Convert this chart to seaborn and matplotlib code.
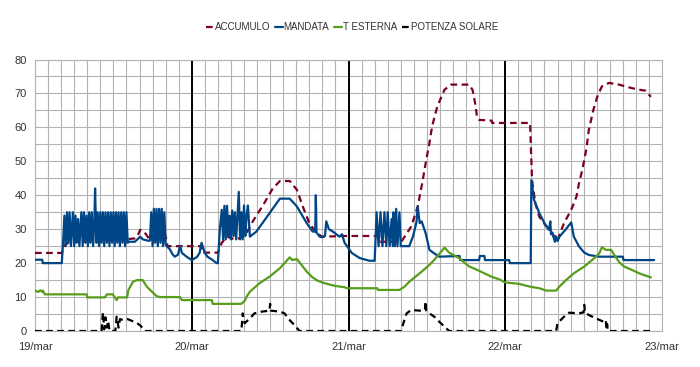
import matplotlib
matplotlib.use("Agg")
import matplotlib.pyplot as plt
import seaborn as sns
import pandas as pd
from matplotlib.ticker import MultipleLocator

sns.set_theme(style="white")
plt.rcParams['font.family'] = ['Liberation Sans', 'DejaVu Sans']

# hours since 19/mar 00:00
acc_h = [0, 4.1, 4.6, 5.4, 9.0, 13.0, 15.3, 15.7, 16.1, 16.5, 17.0, 17.6, 18.5, 19.6, 20.0, 20.3,
         25.5, 25.6, 28.0, 28.6, 29.4, 30.6, 31.6, 32.4, 33.4, 34.9, 36.4, 37.5, 39.0, 40.1, 41.0,
         42.0, 43.1, 44.0, 47.4, 52.7, 52.8, 56.1, 57.6, 58.6, 59.3, 59.9, 60.4, 60.8, 61.6, 62.7,
         63.7, 66.5, 67.0, 67.4, 67.7, 68.0, 69.9, 70.0, 75.8, 76.1, 76.6, 77.2, 78.3, 79.2, 79.6,
         80.0, 81.0, 82.1, 82.9, 83.3, 83.8, 84.4, 84.8, 85.5, 86.1, 86.8, 87.9, 89.4, 91.3, 92.5,
         93.5, 94.3]
acc_v = [23, 23, 25.4, 26.3, 26.5, 26.8, 27.3, 28.0, 29.8, 29.6, 28.5, 26.8, 26.8, 27.3, 28.0, 25.0,
         25.0, 23.1, 23.1, 26.0, 27.8, 27.0, 27.5, 28.9, 32.5, 37.0, 42.0, 44.2, 44.2, 41.6, 36.7,
         31.8, 28.8, 27.8, 28.0, 28.0, 26.3, 26.3, 30.8, 36.7, 43.7, 50.4, 55.5, 60.3, 66.2, 71.1,
         72.6, 72.6, 71.0, 67.0, 62.8, 62.2, 62.0, 61.3, 61.3, 44.5, 37.7, 33.7, 30.8, 28.9, 27.4,
         26.8, 31.8, 35.7, 39.6, 43.6, 47.5, 53.4, 59.3, 65.2, 69.1, 72.1, 73.1, 72.6, 71.6, 71.1,
         70.8, 69.0]

man_h = [0, 1.1, 1.2, 4.1, 4.3, 4.5, 4.7, 4.9, 5.1, 5.3, 5.5, 5.8, 6.0, 6.2, 6.4, 6.6, 6.8, 7.1,
         7.3, 7.5, 7.7, 7.9, 8.1, 8.3, 8.5, 8.7, 8.9, 9.1, 9.2, 9.4, 9.6, 9.8, 10.0, 10.2, 10.4,
         10.6, 10.8, 11.0, 11.2, 11.4, 11.6, 11.8, 12.0, 12.2, 12.4, 12.6, 12.8, 13.0, 13.2, 13.4,
         13.6, 13.8, 14.0, 14.2, 14.4, 15.3, 16.1, 16.5, 17.3, 17.6, 17.8, 18.0, 18.2, 18.4, 18.6,
         18.8, 19.0, 19.2, 19.4, 19.6, 19.8, 20.0, 20.2, 20.6, 21.1, 21.4, 21.9, 22.2, 22.5, 23.2,
         24.0, 24.8, 25.2, 25.5, 26.0, 26.4, 27.2, 27.8, 28.0, 28.3, 28.6, 28.8, 29.0, 29.2, 29.4,
         29.6, 29.8, 30.0, 30.2, 30.4, 30.6, 30.8, 31.0, 31.2, 31.4, 31.6, 31.8, 32.0, 32.2, 32.4,
         32.6, 32.9, 33.9, 35.9, 37.5, 39.0, 40.1, 41.6, 42.5, 42.9, 43.0, 43.1, 43.6, 44.0, 44.4,
         44.6, 45.0, 45.6, 46.6, 47.0, 47.4, 48.5, 49.7, 51.2, 52.0, 52.1, 52.3, 52.6, 52.9, 53.2,
         53.5, 53.8, 54.0, 54.3, 54.6, 54.8, 54.9, 55.1, 55.3, 55.5, 55.8, 56.0, 57.3, 57.9, 58.4,
         58.6, 58.9, 59.2, 59.8, 60.4, 61.1, 61.9, 65.0, 65.1, 68.0, 68.1, 68.8, 68.9, 72.6, 72.7,
         75.9, 76.0, 76.4, 77.2, 78.0, 78.7, 78.9, 79.0, 79.2, 79.6, 79.7, 80.0, 80.3, 81.2, 82.1,
         82.5, 83.3, 84.1, 84.8, 86.4, 90.0, 90.1, 94.8]
man_v = [21, 21, 20, 20, 26, 34, 25, 35, 26, 35, 25, 35, 25, 34, 26, 33, 25, 35, 25, 35, 26, 34,
         25, 35, 26, 35, 25, 33, 42, 26, 35, 25, 35, 26, 35, 25, 35, 26, 35, 25, 35, 26, 35, 25, 35,
         26, 35, 25, 35, 26, 35, 25, 35, 26, 26.3, 26.3, 27.8, 27.0, 26.6, 26.6, 35, 25, 36, 26, 36,
         25, 36, 26, 36, 25, 35, 25.5, 24.9, 24.2, 22.5, 21.9, 22.5, 25.1, 23.0, 21.9, 20.9, 21.8,
         23.0, 26.0, 23.0, 21.9, 20.9, 20.0, 20.0, 30.0, 35.7, 27, 36.9, 27, 36.9, 28, 34, 27, 35.5,
         28, 35, 27, 34, 41, 27, 35, 27, 37, 28, 34, 37, 27.8, 29.3, 34.7, 39.0, 39.0, 36.7, 31.8,
         29.3, 29.3, 40.0, 29.0, 27.8, 27.6, 28.0, 32.3, 30.0, 29.3, 27.8, 28.5, 26.0, 23.0, 21.5,
         20.7, 20.7, 25, 35, 25, 35, 25, 35, 25, 35, 25, 33, 25, 35, 25, 36, 25, 35, 25, 25, 28, 32,
         36.7, 31.8, 32.3, 28.9, 23.9, 22.9, 21.9, 22.1, 20.9, 20.9, 22.1, 22.1, 20.9, 20.9, 20.0,
         20.0, 44.5, 38.7, 34.8, 31.8, 29.8, 32.3, 28.5, 28.9, 26.3, 28.0, 26.5, 27.8, 29.8, 32.0,
         27.8, 24.9, 23.1, 22.4, 21.9, 21.9, 20.9, 20.9]

tes_h = [0, 0.5, 0.8, 1.1, 1.2, 1.5, 7.9, 8.0, 10.7, 11.0, 11.9, 12.2, 12.5, 12.7, 14.1, 14.3, 15.0,
         15.6, 16.5, 17.1, 17.9, 18.6, 19.1, 22.2, 22.5, 27.1, 27.2, 31.6, 32.1, 32.4, 32.9, 34.4,
         35.9, 37.5, 38.2, 39.0, 39.4, 40.1, 40.8, 41.6, 42.5, 43.3, 44.3, 45.9, 47.4, 47.8, 52.4,
         52.5, 55.8, 56.6, 57.3, 58.9, 60.4, 61.1, 62.2, 62.7, 63.4, 65.0, 65.7, 66.5, 67.7, 68.8,
         69.9, 71.1, 72.0, 74.1, 75.7, 77.2, 78.3, 79.8, 80.3, 81.3, 82.5, 84.1, 85.6, 86.4, 86.8,
         87.4, 88.2, 88.7, 89.4, 90.2, 91.4, 92.5, 93.2, 94.3]
tes_v = [11.9, 11.5, 12.0, 11.5, 11.9, 10.8, 10.8, 9.9, 9.9, 10.8, 10.8, 10.0, 9.1, 9.9, 9.9, 12.1,
         14.5, 15.0, 15.0, 13.1, 11.6, 10.3, 10.0, 10.0, 9.1, 9.1, 8.0, 8.0, 8.9, 10.1, 11.6, 14.1,
         16.0, 18.5, 20.0, 21.7, 20.9, 21.2, 19.5, 17.5, 15.8, 14.8, 14.1, 13.3, 12.9, 12.6, 12.6,
         12.1, 12.1, 13.1, 14.5, 17.0, 19.5, 20.9, 23.4, 24.6, 23.1, 21.4, 20.2, 19.0, 18.0, 17.0,
         16.0, 15.2, 14.3, 13.9, 13.1, 12.6, 11.9, 11.9, 13.1, 15.0, 17.0, 19.0, 21.4, 22.9, 24.7,
         23.9, 23.9, 22.4, 20.4, 19.0, 18.0, 17.0, 16.5, 15.8]

sol_h = [0, 10.2, 10.4, 10.6, 10.8, 11.0, 11.2, 11.4, 12.3, 12.5, 12.8, 13.0, 13.5, 14.2, 14.8,
         15.5, 16.2, 16.8, 31.6, 31.8, 32.1, 32.9, 33.6, 34.7, 35.9, 36.0, 36.1, 37.5, 38.2, 39.0,
         39.7, 40.5, 56.1, 56.4, 56.9, 57.6, 58.9, 59.7, 59.8, 59.9, 60.4, 61.5, 61.9, 62.7, 63.4,
         79.8, 80.0, 81.0, 81.8, 83.3, 84.0, 84.1, 84.2, 84.8, 85.9, 87.1, 87.4, 87.5, 87.6, 87.7,
         94.3]
sol_v = [0, 0, 5.5, 0.5, 4.0, 1.0, 3.0, 0, 0, 4.2, 1.0, 3.5, 3.2, 3.5, 3.0, 2.5, 1.5, 0, 0, 5.2,
         2.3, 3.7, 5.2, 5.7, 6.0, 8.0, 6.0, 5.7, 5.2, 3.2, 1.8, 0, 0, 2.3, 5.2, 6.2, 6.0, 6.2, 8.7,
         6.0, 5.2, 3.7, 2.7, 1.3, 0, 0, 2.3, 4.2, 5.4, 5.2, 5.5, 7.7, 5.5, 4.7, 3.7, 2.7, 3.2, 0.5,
         2.0, 0, 0]

tick_pos = [0, 24, 48, 72, 96]
tick_lab = ["19/mar", "20/mar", "21/mar", "22/mar", "23/mar"]

fig = plt.figure(figsize=(7.0, 3.67), dpi=100)
ax = fig.add_axes([35/700, 1 - 331/367, 627/700, (331 - 59.5)/367])

grid_c = "#b3b3b3"
ax.set_xlim(0, 96)
ax.set_ylim(0, 80)
ax.xaxis.set_minor_locator(MultipleLocator(2))
ax.yaxis.set_minor_locator(MultipleLocator(5))
ax.set_xticks(tick_pos)
ax.set_xticklabels(tick_lab)
ax.set_yticks(range(0, 81, 10))
ax.grid(True, which="both", color=grid_c, linewidth=0.8)
ax.set_axisbelow(True)
for d in [24, 48, 72]:
    ax.axvline(d, color="black", linewidth=1.4, zorder=1.5)
for s in ax.spines.values():
    s.set_color(grid_c)
    s.set_linewidth(0.8)
ax.tick_params(axis="both", which="major", length=4, width=0.8, color=grid_c,
               labelsize=8, labelcolor="#333333", pad=2)
ax.tick_params(axis="x", which="major", pad=4)
ax.tick_params(axis="both", which="minor", length=0)

series = [
    ("ACCUMULO", acc_h, acc_v, "#7e0021", (0, (3, 2))),
    ("MANDATA", man_h, man_v, "#004586", "-"),
    ("T ESTERNA", tes_h, tes_v, "#579d1c", "-"),
    ("POTENZA SOLARE", sol_h, sol_v, "black", (0, (3, 2))),
]
for name, h, v, c, ls in series:
    df = pd.DataFrame({"h": h, "v": v})
    sns.lineplot(data=df, x="h", y="v", ax=ax, color=c, linewidth=1.6,
                 linestyle=ls, estimator=None, sort=False, label=name, zorder=3)

ax.set_xlabel("")
ax.set_ylabel("")
leg = ax.legend(loc="center", bbox_to_anchor=(352/700, 1 - 27/367),
                bbox_transform=fig.transFigure, ncol=4, frameon=False,
                fontsize=7, handlelength=0.8, handletextpad=0.1,
                columnspacing=0.5)
for t in leg.get_texts():
    t.set_color("#333333")

fig.savefig("out.png", dpi=100, facecolor="white")
